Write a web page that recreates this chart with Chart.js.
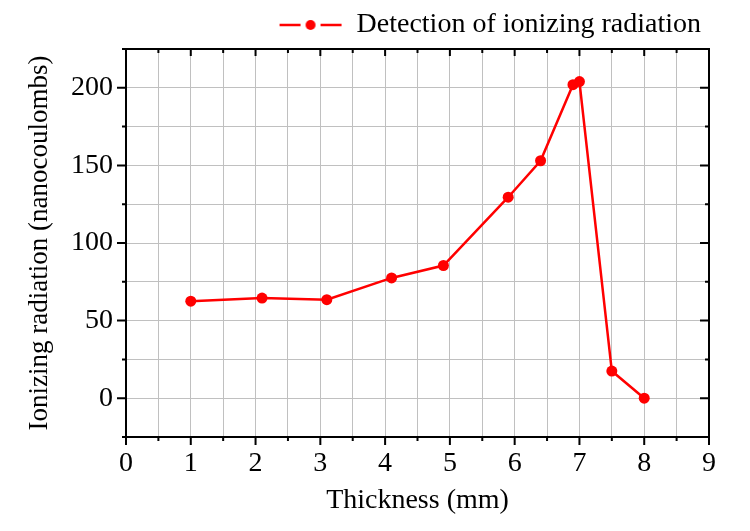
<!DOCTYPE html>
<html>
<head>
<meta charset="utf-8">
<script src="https://cdn.jsdelivr.net/npm/chart.js@4.4.0/dist/chart.umd.min.js"></script>
<style>
  html, body { margin: 0; padding: 0; background: #fff; }
  #wrap { width: 750px; height: 531px; }
</style>
</head>
<body>
<div id="wrap"><canvas id="radChart"></canvas></div>
<script>
// thickness (mm) and measured charge (nC)
const thickness = [1, 2.1, 3.1, 4.1, 4.9, 5.9, 6.4, 6.9, 7.0, 7.5, 8];
const radiation = [62.5, 64.5, 63.5, 77.5, 85.5, 129.5, 153, 202, 204, 17.5, 0];
const xTickLabels = [0, 1, 2, 3, 4, 5, 6, 7, 8, 9];
const yTickLabels = [0, 50, 100, 150, 200];

const red = "#ff0000";
const serif = "'Liberation Serif', 'DejaVu Serif', serif";

// legend marker: line - dot - line
const marker = document.createElement("canvas");
marker.width = 64;
marker.height = 14;
const mctx = marker.getContext("2d");
mctx.strokeStyle = red;
mctx.lineWidth = 2.5;
mctx.beginPath();
mctx.moveTo(1, 7);
mctx.lineTo(22, 7);
mctx.moveTo(42, 7);
mctx.lineTo(63, 7);
mctx.stroke();
mctx.fillStyle = red;
mctx.beginPath();
mctx.arc(32, 7, 5, 0, Math.PI * 2);
mctx.fill();

// frame around the plot with inward/outward ticks
const framePlugin = {
  id: "frame",
  afterDraw(chart) {
    const { ctx, chartArea: a, scales } = chart;
    const x = scales.x, y = scales.y;
    ctx.save();
    ctx.strokeStyle = "#000";
    ctx.lineWidth = 2;
    ctx.strokeRect(a.left, a.top, a.right - a.left, a.bottom - a.top);
    ctx.beginPath();
    for (let v = x.min; v <= x.max + 1e-9; v += 0.5) {
      const px = x.getPixelForValue(v);
      const major = Math.abs(v - Math.round(v)) < 1e-9;
      ctx.moveTo(px, a.bottom);
      ctx.lineTo(px, a.bottom + (major ? 8 : 4));
      ctx.moveTo(px, a.top);
      ctx.lineTo(px, a.top + (major ? 7 : 4));
    }
    for (let v = y.min; v <= y.max + 1e-9; v += 25) {
      const py = y.getPixelForValue(v);
      const major = v % 50 === 0;
      ctx.moveTo(a.left, py);
      ctx.lineTo(a.left - (major ? 9 : 4), py);
      ctx.moveTo(a.right, py);
      ctx.lineTo(a.right - (major ? 9 : 4), py);
    }
    ctx.stroke();
    ctx.restore();
  },
};

const ctx = document.getElementById("radChart").getContext("2d");
new Chart(ctx, {
  type: "line",
  data: {
    datasets: [
      {
        label: "Detection of ionizing radiation",
        data: thickness.map((t, i) => ({ x: t, y: radiation[i] })),
        borderColor: red,
        backgroundColor: red,
        borderWidth: 2.5,
        pointRadius: 5.5,
        pointHoverRadius: 5.5,
        pointBorderWidth: 0,
        tension: 0,
      },
    ],
  },
  options: {
    responsive: true,
    maintainAspectRatio: false,
    animation: false,
    layout: { padding: { left: 0, right: 41, top: 3, bottom: 0 } },
    plugins: {
      tooltip: { enabled: false },
      legend: {
        position: "top",
        align: "end",
        labels: {
          usePointStyle: true,
          pointStyle: marker,
          pointStyleWidth: 64,
          boxHeight: 14,
          color: "#000",
          padding: 8,
          font: { family: serif, size: 28 },
        },
      },
    },
    scales: {
      x: {
        type: "linear",
        min: 0,
        max: 9,
        afterFit: (s) => { s.height = 94; },
        afterBuildTicks: (s) => {
          s.ticks = [];
          for (let v = 0; v <= 9; v += 0.5) s.ticks.push({ value: v });
        },
        ticks: {
          padding: 10,
          color: "#000",
          font: { family: serif, size: 28 },
          autoSkip: false,
          maxRotation: 0,
          callback: (v) => (xTickLabels.includes(v) ? String(v) : ""),
        },
        grid: { color: "#c0c0c0", lineWidth: 1, drawTicks: false },
        border: { display: false },
        title: {
          display: true,
          text: "Thickness (mm)",
          color: "#000",
          font: { family: serif, size: 28 },
          padding: { top: 0, bottom: 14 },
        },
      },
      y: {
        min: -25,
        max: 225,
        afterFit: (s) => { s.width = 126; },
        ticks: {
          stepSize: 25,
          padding: 13,
          color: "#000",
          font: { family: serif, size: 28 },
          autoSkip: false,
          callback: (v) => (yTickLabels.includes(v) ? String(v) : ""),
        },
        grid: { color: "#c0c0c0", lineWidth: 1, drawTicks: false },
        border: { display: false },
        title: {
          display: true,
          text: "Ionizing radiation (nanocoulombs)",
          color: "#000",
          font: { family: serif, size: 27 },
          padding: { top: 24, bottom: 0 },
        },
      },
    },
  },
  plugins: [framePlugin],
});
</script>
</body>
</html>
